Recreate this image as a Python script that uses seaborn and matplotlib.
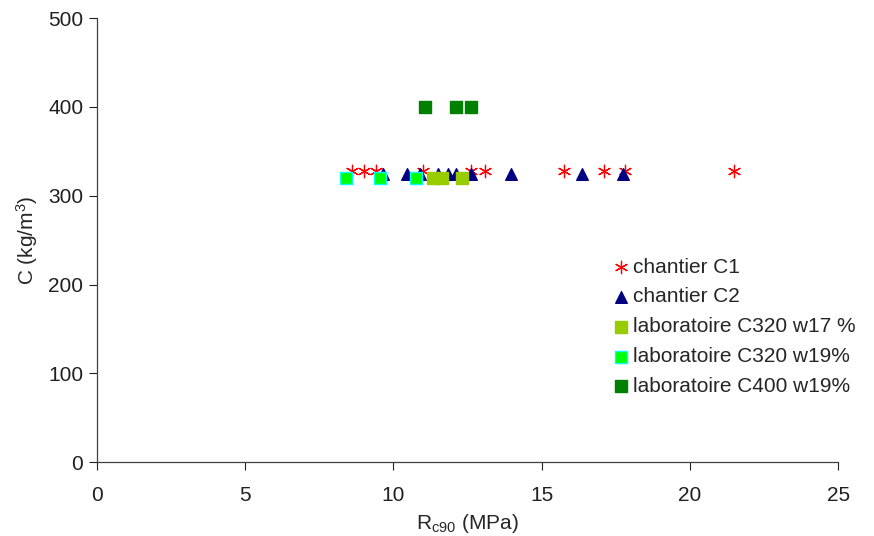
import pandas as pd
import matplotlib.pyplot as plt
import seaborn as sns

sns.set_theme(style="ticks")
plt.rcParams['font.family'] = ['Liberation Sans', 'DejaVu Sans']
plt.rcParams['mathtext.default'] = 'regular'

# Rc90 (MPa) / C (kg/m3)
c1_x = [8.6, 9.0, 9.4, 11.0, 12.6, 13.1, 15.75, 17.1, 17.8, 21.5]
c1_y = [328] * len(c1_x)
c2_x = [9.65, 10.45, 10.9, 11.5, 11.85, 12.1, 12.6, 13.95, 16.35, 17.75]
c2_y = [324] * len(c2_x)
lab17_x = [11.35, 11.65, 12.3]
lab17_y = [320, 320, 320]
lab19_x = [8.4, 9.55, 10.75]
lab19_y = [320, 320, 320]
lab400_x = [11.05, 12.1, 12.6]
lab400_y = [400, 400, 400]

series = [
    ('chantier C1', c1_x, c1_y, '#FF0000', '#FF0000', (6, 2, 0), 80),
    ('chantier C2', c2_x, c2_y, '#000080', '#000080', '^', 70),
    ('laboratoire C320 w17 %', lab17_x, lab17_y, '#99CC00', '#99CC00', 's', 70),
    ('laboratoire C320 w19%', lab19_x, lab19_y, '#00FF00', '#00FFFF', 's', 70),
    ('laboratoire C400 w19%', lab400_x, lab400_y, '#008000', '#008000', 's', 70),
]

fig, ax = plt.subplots(figsize=(8.74, 5.36), dpi=100)
fig.subplots_adjust(left=0.111, right=0.959, top=0.966, bottom=0.138)

for name, xs, ys, fc, ec, mk, sz in series:
    df = pd.DataFrame({'Rc90': xs, 'C': ys})
    if mk == (6, 2, 0):
        sns.scatterplot(data=df, x='Rc90', y='C', ax=ax, marker=mk, s=sz,
                        color=fc, linewidth=0.9, label=name)
    else:
        sns.scatterplot(data=df, x='Rc90', y='C', ax=ax, marker=mk, s=sz,
                        color=fc, edgecolor=ec, linewidth=1.0, label=name)

ax.set_xlim(0, 25)
ax.set_ylim(0, 500)
ax.set_xticks(range(0, 26, 5))
ax.set_yticks(range(0, 501, 100))
ax.tick_params(labelsize=15, length=6, width=0.8, direction='out', colors='#202020')
ax.tick_params(axis='x', pad=11)
ax.tick_params(axis='y', pad=4)
ax.set_xlabel('R$_{c90}$ (MPa)', fontsize=15, labelpad=5)
ax.set_ylabel('C (kg/m$^3$)', fontsize=15, labelpad=6)
for sp in ['top', 'right']:
    ax.spines[sp].set_visible(False)
for sp in ['left', 'bottom']:
    ax.spines[sp].set_color('#404040')
    ax.spines[sp].set_linewidth(0.9)

ax.legend(loc='upper left', bbox_to_anchor=(0.689, 0.535),
          bbox_transform=fig.transFigure, frameon=False, fontsize=15,
          handletextpad=0.1, labelspacing=0.52, borderaxespad=0,
          handlelength=1.0)

plt.savefig('out.png', dpi=100)
plt.close()
